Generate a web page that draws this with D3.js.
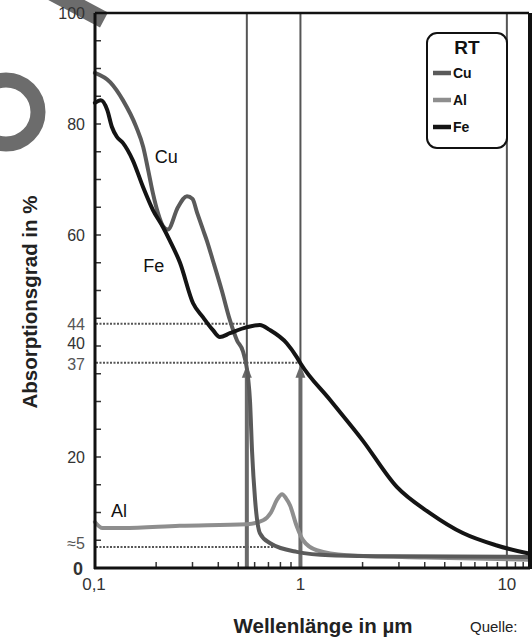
<!DOCTYPE html>
<html><head><meta charset="utf-8">
<script src="https://cdn.jsdelivr.net/npm/d3@7/dist/d3.min.js"></script>
<style>body{margin:0;background:#fff;} svg{display:block;font-family:"Liberation Sans",Arial,sans-serif;}</style>
</head><body>
<svg id="c" width="532" height="642"></svg>
<script>
// ---- data ----
const cuData = [[0.101,89.2],[0.12,87.5],[0.138,84.3],[0.16,79.5],[0.173,75.9],[0.183,71.7],[0.193,67.5],[0.204,64],[0.216,61.6],[0.228,61],[0.255,65],[0.282,67],[0.30,66.5],[0.316,64],[0.337,61],[0.352,59],[0.376,55.5],[0.416,50],[0.455,44.7],[0.493,41],[0.527,39],[0.557,34.4],[0.570,30],[0.583,21],[0.603,12.3],[0.636,6.3],[0.71,4.5],[0.96,2.9],[1.39,2.3],[3,2.1],[12.8,2]];
const alData = [[0.101,8.3],[0.11,7.2],[0.138,7.2],[0.26,7.6],[0.55,7.9],[0.66,8.6],[0.72,10],[0.77,12.3],[0.815,13.3],[0.85,12.6],[0.89,11.3],[0.96,7.5],[1.03,5],[1.2,3.2],[1.68,2.3],[4,1.9],[12.8,1.5]];
const feData = [[0.101,83.8],[0.108,84.3],[0.116,82.5],[0.122,79.5],[0.129,77.7],[0.138,76.6],[0.154,73.5],[0.173,68.6],[0.193,64.5],[0.216,61.4],[0.233,59],[0.261,55],[0.302,47.7],[0.337,45.2],[0.376,42.9],[0.407,41.6],[0.455,42.3],[0.551,43.4],[0.636,43.8],[0.71,42.9],[0.858,40.5],[0.96,38],[1.0,36.9],[1.39,30.3],[2.0,23],[2.93,14.6],[4.24,9.9],[6.12,6.3],[8.86,4.1],[12.8,2.6]];
const yTickLabels = [[100,"100"],[80,"80"],[60,"60"],[44,"44"],[40,"40"],[37,"37"],[20,"20"],[4.5,"≈5"]];
const xTickLabels = [[1,"1"],[10,"10"]];
const vLines = [0.55, 1, 10];
const refLines = [[44,0.55],[37,1],[3.8,0.74]]; // [value, x end]
const arrows = [0.55, 1];
const legendItems = ["Cu","Al","Fe"];
const curveLabels = [["Cu",0.197,73],["Fe",0.173,53.3],["Al",0.121,9.2]];

const colors = {Cu:"#5a5a5a", Al:"#8e8e8e", Fe:"#141414"};
const labelShift = {40:-3, 37:2};

const svg = d3.select("#c");
const x = d3.scaleLog().domain([0.1,12.8]).range([94,529]);
const y = d3.scaleLinear().domain([0,100]).range([568,13]);

// watermark fragments
svg.append("circle").attr("cx",6).attr("cy",112).attr("r",32).attr("fill","none").attr("stroke","#6c6c6c").attr("stroke-width",15);
svg.append("line").attr("x1",40).attr("y1",-14).attr("x2",104).attr("y2",20).attr("stroke","#6c6c6c").attr("stroke-width",17);

// vertical lines
svg.selectAll(".vl").data(vLines).enter().append("line")
  .attr("x1",d=>x(d)).attr("x2",d=>x(d)).attr("y1",y(100)).attr("y2",y(0))
  .attr("stroke","#555").attr("stroke-width",2);

// dotted ref lines
svg.selectAll(".rl").data(refLines).enter().append("line")
  .attr("x1",x(0.1)+2).attr("x2",d=>x(d[1])).attr("y1",d=>y(d[0])).attr("y2",d=>y(d[0]))
  .attr("stroke","#555").attr("stroke-width",2).attr("stroke-dasharray","2,1.5");

// y minor ticks
svg.selectAll(".yt").data(d3.range(5,100,5)).enter().append("line")
  .attr("x1",x(0.1)).attr("x2",x(0.1)+7).attr("y1",d=>y(d)).attr("y2",d=>y(d))
  .attr("stroke","#333").attr("stroke-width",1.5);
// x minor ticks
const xm = [];
[0.1,1,10].forEach(dec=>{for(let k=2;k<=9;k++){const v=dec*k; if(v<12.8) xm.push(v);}});
xm.push(11,12);
svg.selectAll(".xt").data(xm).enter().append("line")
  .attr("x1",d=>x(d)).attr("x2",d=>x(d)).attr("y1",y(0)).attr("y2",y(0)-6)
  .attr("stroke","#333").attr("stroke-width",1.5);

// arrows
arrows.forEach(a=>{
  svg.append("line").attr("x1",x(a)).attr("x2",x(a)).attr("y1",y(0)).attr("y2",y(35))
    .attr("stroke","#6a6a6a").attr("stroke-width",4);
  const tx=x(a), ty=y(36.6);
  svg.append("path").attr("d",`M${tx},${ty} L${tx-5},${ty+13} L${tx+5},${ty+13} Z`).attr("fill","#6a6a6a");
});

// curves
const line = d3.line().x(d=>x(d[0])).y(d=>y(d[1])).curve(d3.curveMonotoneX);
[["Al",alData],["Cu",cuData],["Fe",feData]].forEach(([k,d])=>{
  svg.append("path").datum(d).attr("d",line).attr("fill","none")
    .attr("stroke",colors[k]).attr("stroke-width",4).attr("stroke-linejoin","round").attr("stroke-linecap","round");
});

// axes frame
svg.append("line").attr("x1",x(0.1)+1).attr("x2",529).attr("y1",y(100)).attr("y2",y(100)).attr("stroke","#111").attr("stroke-width",2.5);
svg.append("line").attr("x1",530).attr("x2",530).attr("y1",y(100)).attr("y2",y(0)+1).attr("stroke","#111").attr("stroke-width",4);
svg.append("line").attr("x1",x(0.1)+1).attr("x2",x(0.1)+1).attr("y1",y(100)).attr("y2",y(0)+1).attr("stroke","#111").attr("stroke-width",3);
svg.append("line").attr("x1",x(0.1)).attr("x2",530).attr("y1",y(0)).attr("y2",y(0)).attr("stroke","#111").attr("stroke-width",3);

// y labels
svg.selectAll(".yl").data(yTickLabels).enter().append("text")
  .attr("x",85).attr("y",d=>y(d[0])+(labelShift[d[0]]||0)).attr("dy","0.36em").attr("text-anchor","end")
  .attr("font-size",16).attr("fill",d=>(d[0]==44||d[0]==37||d[0]<10)?"#555":"#333").text(d=>d[1]);
svg.append("text").attr("x",78).attr("y",y(0)+7).attr("text-anchor","middle").attr("font-size",18).attr("font-weight","bold").attr("fill","#333").text("0");
svg.append("text").attr("x",x(0.1)).attr("y",590).attr("text-anchor","middle").attr("font-size",17).attr("fill","#333").text("0,1");
svg.selectAll(".xl").data(xTickLabels).enter().append("text")
  .attr("x",d=>x(d[0])).attr("y",590).attr("text-anchor","middle").attr("font-size",17).attr("fill","#333").text(d=>d[1]);

// titles
svg.append("text").attr("x",323).attr("y",633).attr("text-anchor","middle").attr("font-size",20.5).attr("font-weight","bold").attr("fill","#222").text("Wellenlänge in µm");
svg.append("text").attr("x",470).attr("y",632).attr("font-size",15).attr("fill","#222").text("Quelle:");
svg.append("text").attr("transform","translate(37,302) rotate(-90)").attr("text-anchor","middle").attr("font-size",20.5).attr("font-weight","bold").attr("fill","#222").text("Absorptionsgrad in %");

// curve labels
svg.selectAll(".cl").data(curveLabels).enter().append("text")
  .attr("x",d=>x(d[1])).attr("y",d=>y(d[2])).attr("font-size",18).attr("fill","#111").text(d=>d[0]);

// legend
const lg = svg.append("g");
lg.append("rect").attr("x",427).attr("y",33).attr("width",80).attr("height",115).attr("rx",10)
  .attr("fill","#fff").attr("stroke","#111").attr("stroke-width",2);
lg.append("text").attr("x",467).attr("y",54).attr("text-anchor","middle").attr("font-size",19).attr("font-weight","bold").attr("fill","#111").text("RT");
legendItems.forEach((k,i)=>{
  const yy = 73 + i*27;
  lg.append("line").attr("x1",433).attr("x2",451).attr("y1",yy).attr("y2",yy).attr("stroke",colors[k]).attr("stroke-width",4.5);
  lg.append("text").attr("x",453).attr("y",yy).attr("dy","0.36em").attr("font-size",14).attr("font-weight","bold").attr("fill","#111").text(k);
});
</script>
</body></html>
